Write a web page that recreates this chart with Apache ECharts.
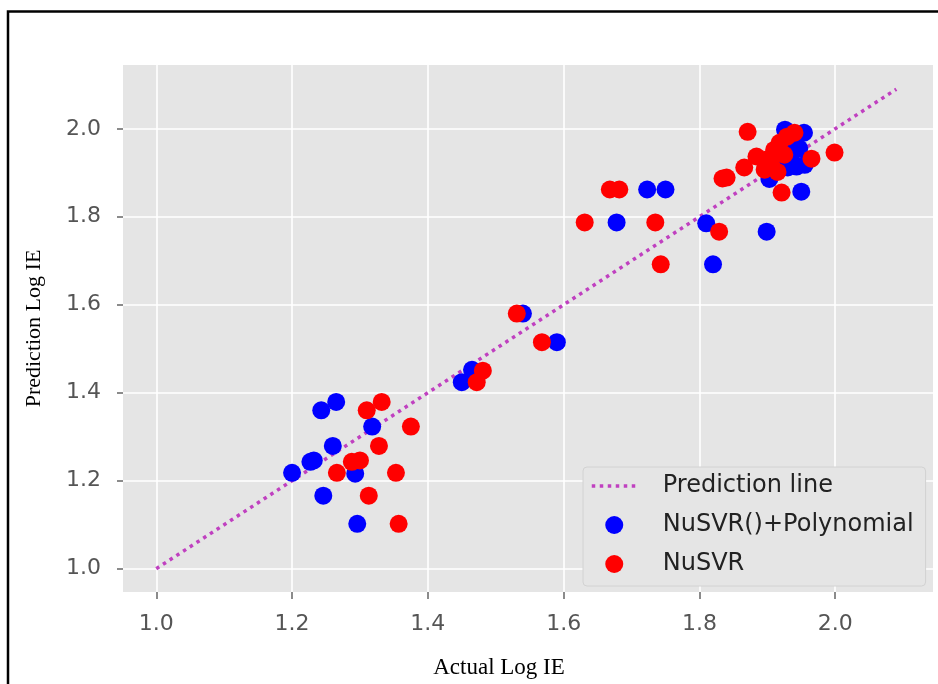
<!DOCTYPE html>
<html>
<head>
<meta charset="utf-8">
<title>Actual vs Prediction Log IE</title>
<script src="https://cdn.jsdelivr.net/npm/echarts@6/dist/echarts.min.js"></script>
<style>
  html, body { margin: 0; padding: 0; background: #fff; }
  #chart { width: 938px; height: 684px; }
</style>
</head>
<body>
<div id="chart"></div>
<script>
// tick values shared by both axes
var tickValues = [1.0, 1.2, 1.4, 1.6, 1.8, 2.0];

// prediction line (y = x)
var lineX = [1.0, 2.09];
var lineY = [1.0, 2.09];

// NuSVR()+Polynomial (blue)
var polyX = [1.200, 1.227, 1.232, 1.260, 1.243, 1.265, 1.318, 1.293, 1.246, 1.296,
             1.723, 1.750, 1.678, 1.540, 1.590, 1.465, 1.450,
             1.926, 1.954, 1.937, 1.947, 1.935, 1.921, 1.943, 1.930, 1.955, 1.903, 1.915, 1.950, 1.810, 1.899, 1.820];
var polyY = [1.218, 1.243, 1.246, 1.279, 1.360, 1.379, 1.323, 1.216, 1.166, 1.102,
             1.862, 1.862, 1.787, 1.580, 1.515, 1.452, 1.424,
             1.998, 1.991, 1.975, 1.955, 1.940, 1.930, 1.914, 1.912, 1.918, 1.886, 1.905, 1.857, 1.785, 1.766, 1.692];

// NuSVR (red)
var nusvrX = [1.310, 1.332, 1.375, 1.328, 1.288, 1.300, 1.266, 1.353, 1.313, 1.357,
              1.668, 1.682, 1.631, 1.735, 1.531, 1.568, 1.481, 1.472,
              1.871, 1.940, 1.929, 1.918, 1.910, 1.925, 1.884, 1.899, 1.965, 1.999, 1.866, 1.906, 1.896, 1.915,
              1.834, 1.840, 1.921, 1.829, 1.743];
var nusvrY = [1.360, 1.379, 1.323, 1.279, 1.243, 1.246, 1.218, 1.218, 1.166, 1.102,
              1.862, 1.862, 1.787, 1.787, 1.580, 1.515, 1.450, 1.424,
              1.993, 1.991, 1.982, 1.968, 1.952, 1.941, 1.937, 1.930, 1.932, 1.946, 1.912, 1.918, 1.907, 1.902,
              1.887, 1.889, 1.855, 1.766, 1.692];

function pairs(xs, ys) {
  return xs.map(function (x, i) { return [x, ys[i]]; });
}

var chart = echarts.init(document.getElementById('chart'));

var tickFont = {
  color: '#555',
  fontFamily: 'DejaVu Sans',
  fontSize: 22
};

var dotted = { color: '#c040c0', width: 3.5, type: [3.5, 4.5] };

var option = {
  backgroundColor: '#fff',
  animation: false,
  grid: {
    left: 123,
    right: 5,
    top: 65,
    bottom: 91,
    show: true,
    backgroundColor: '#e5e5e5',
    borderWidth: 0
  },
  legend: {
    left: 583,
    top: 467,
    orient: 'vertical',
    padding: [7, 12, 10, 7],
    itemGap: 15,
    itemWidth: 45,
    itemHeight: 18,
    backgroundColor: '#e5e5e5',
    borderColor: '#d2d2d2',
    borderWidth: 1,
    borderRadius: 4,
    textStyle: {
      color: '#222',
      fontFamily: 'DejaVu Sans',
      fontSize: 24,
      padding: [0, 0, 0, 21]
    },
    data: [
      { name: 'Prediction line', itemStyle: { opacity: 0 }, lineStyle: dotted },
      'NuSVR()+Polynomial',
      'NuSVR'
    ]
  },
  xAxis: {
    type: 'value',
    min: 0.951,
    max: 2.144,
    name: 'Actual Log IE',
    nameLocation: 'middle',
    nameGap: 64,
    nameTextStyle: {
      color: '#000',
      fontFamily: 'Liberation Serif',
      fontSize: 23,
      padding: [0, 58, 0, 0]
    },
    axisLine: { show: false },
    axisTick: {
      show: true,
      length: 7,
      lineStyle: { color: '#666', width: 1.5 },
      customValues: tickValues
    },
    axisLabel: Object.assign({
      margin: 21,
      customValues: tickValues,
      formatter: function (v) { return v.toFixed(1); }
    }, tickFont),
    splitLine: { show: true, lineStyle: { color: '#fff', width: 1.6 } }
  },
  yAxis: {
    type: 'value',
    min: 0.947,
    max: 2.145,
    name: 'Prediction Log IE',
    nameLocation: 'middle',
    nameGap: 78,
    nameTextStyle: {
      color: '#000',
      fontFamily: 'Liberation Serif',
      fontSize: 22
    },
    axisLine: { show: false },
    axisTick: {
      show: true,
      length: 6,
      lineStyle: { color: '#666', width: 1.5 },
      customValues: tickValues
    },
    axisLabel: Object.assign({
      margin: 22,
      customValues: tickValues,
      formatter: function (v) { return v.toFixed(1); }
    }, tickFont),
    splitLine: { show: true, lineStyle: { color: '#fff', width: 1.6 } }
  },
  series: [
    {
      name: 'Prediction line',
      type: 'line',
      data: pairs(lineX, lineY),
      symbol: 'none',
      z: 1,
      lineStyle: dotted,
      itemStyle: { color: '#c040c0' }
    },
    {
      name: 'NuSVR()+Polynomial',
      type: 'scatter',
      data: pairs(polyX, polyY),
      symbolSize: 18,
      z: 2,
      itemStyle: { color: '#0000ff', opacity: 1 }
    },
    {
      name: 'NuSVR',
      type: 'scatter',
      data: pairs(nusvrX, nusvrY),
      symbolSize: 18,
      z: 3,
      itemStyle: { color: '#ff0000', opacity: 1 }
    }
  ],
  graphic: [
    {
      // page frame, left and top edges
      type: 'polyline',
      shape: { points: [[8, 684], [8, 11.5], [938, 11.5]] },
      style: { stroke: '#000', lineWidth: 2.5, fill: null },
      silent: true
    }
  ]
};

chart.setOption(option);
</script>
</body>
</html>
